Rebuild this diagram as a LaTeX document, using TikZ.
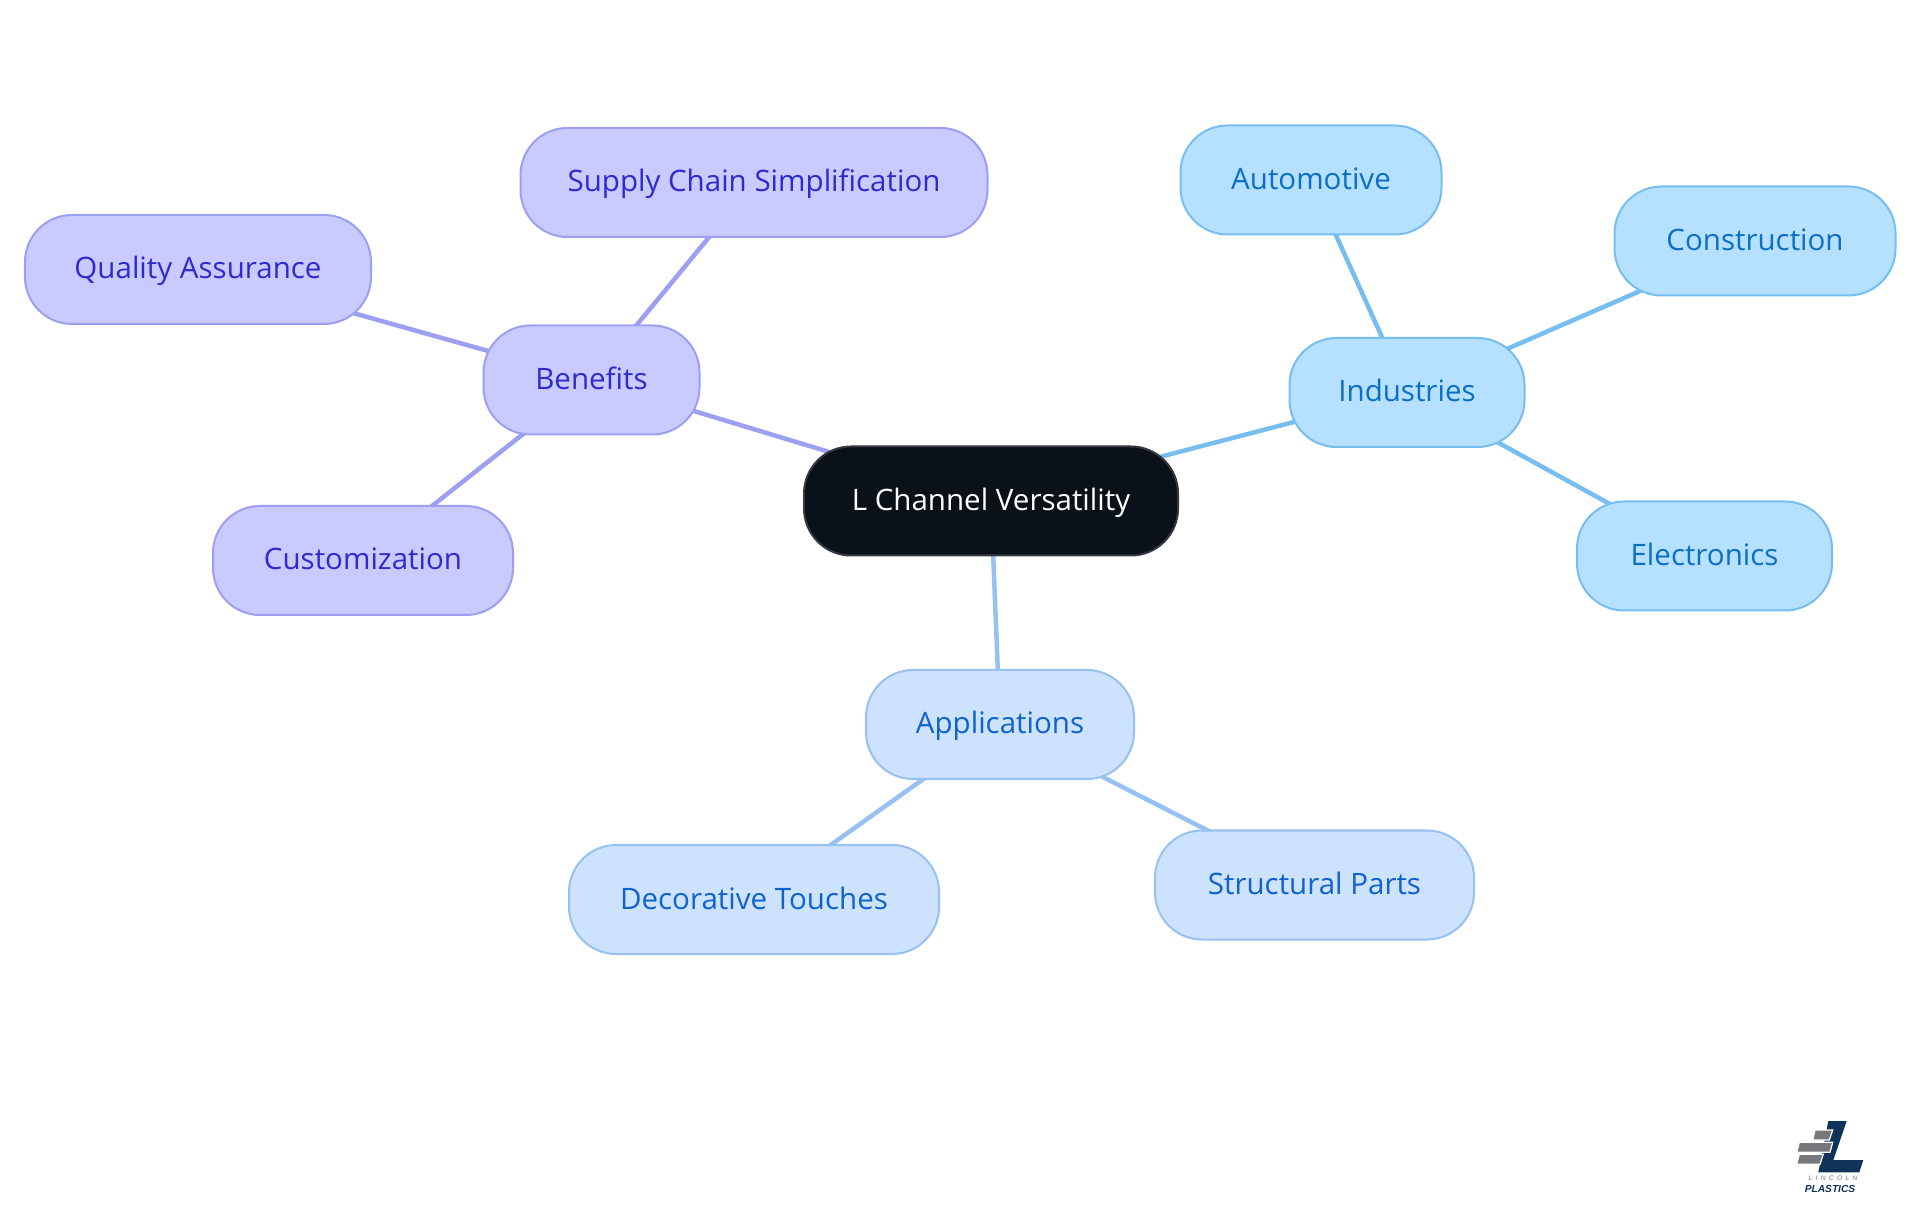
\documentclass[tikz,border=0pt]{standalone}
\usepackage{fontspec}
\setmainfont{Open Sans}
\newfontfamily\logofont{Liberation Sans}
\usetikzlibrary{backgrounds}

\definecolor{rootfill}{HTML}{0B1119}
\definecolor{rootdraw}{HTML}{35383D}
\definecolor{benefitfill}{HTML}{C9CAFF}
\definecolor{benefitdraw}{HTML}{9D9FF2}
\definecolor{benefittext}{HTML}{2D2BCF}
\definecolor{industryfill}{HTML}{B5E0FF}
\definecolor{industrydraw}{HTML}{77BEF0}
\definecolor{industrytext}{HTML}{0B6FC7}
\definecolor{applicationfill}{HTML}{CDE2FC}
\definecolor{applicationdraw}{HTML}{96C1F2}
\definecolor{applicationtext}{HTML}{0F62CF}
\definecolor{logoblue}{HTML}{0F3258}
\definecolor{logogray}{HTML}{77787B}

\begin{document}
\begin{tikzpicture}[
    knoten/.style={
      rectangle,
      rounded corners=.47cm,
      minimum height=1.09cm,
      text height=.30cm,
      text depth=.11cm,
      inner sep=0pt,
      line width=.02cm,
      font=\fontsize{8.4}{10}\selectfont},
    wurzel/.style={knoten, fill=rootfill, draw=rootdraw, text=white},
    benefit/.style={knoten, fill=benefitfill, draw=benefitdraw, text=benefittext},
    industry/.style={knoten, fill=industryfill, draw=industrydraw, text=industrytext},
    application/.style={knoten, fill=applicationfill, draw=applicationdraw, text=applicationtext},
    ast/.style={line width=.045cm},
    ziegel/.style={fill=logogray, draw=white, line width=.012cm}
    ]
  \useasboundingbox (0,0) rectangle (19.2,12.15);

  \node at (9.91,7.14) (root) [wurzel, minimum width=3.74cm] {L Channel Versatility};

  \node at (5.915,8.35) (benefits) [benefit, minimum width=2.16cm] {Benefits};
  \node at (7.54,10.325) (supply) [benefit, minimum width=4.67cm] {Supply Chain Simplification};
  \node at (1.98,9.455) (quality) [benefit, minimum width=3.46cm] {Quality Assurance};
  \node at (3.63,6.545) (custom) [benefit, minimum width=3.00cm] {Customization};

  \node at (14.07,8.225) (industries) [industry, minimum width=2.35cm] {Industries};
  \node at (13.11,10.35) (automotive) [industry, minimum width=2.61cm] {Automotive};
  \node at (17.55,9.74) (construction) [industry, minimum width=2.81cm] {Construction};
  \node at (17.045,6.59) (electronics) [industry, minimum width=2.55cm] {Electronics};

  \node at (10.00,4.905) (applications) [application, minimum width=2.68cm] {Applications};
  \node at (7.54,3.155) (decorative) [application, minimum width=3.70cm] {Decorative Touches};
  \node at (13.145,3.30) (structural) [application, minimum width=3.19cm] {Structural Parts};

  \begin{pgfonlayer}{background}
    \path [ast, draw=benefitdraw] (root.center) edge (benefits.center);
    \path [ast, draw=benefitdraw] (benefits.center) edge (supply.center);
    \path [ast, draw=benefitdraw] (benefits.center) edge (quality.center);
    \path [ast, draw=benefitdraw] (benefits.center) edge (custom.center);

    \path [ast, draw=industrydraw] (root.center) edge (industries.center);
    \path [ast, draw=industrydraw] (industries.center) edge (automotive.center);
    \path [ast, draw=industrydraw] (industries.center) edge (construction.center);
    \path [ast, draw=industrydraw] (industries.center) edge (electronics.center);

    \path [ast, draw=applicationdraw] (root.center) edge (applications.center);
    \path [ast, draw=applicationdraw] (applications.center) edge (decorative.center);
    \path [ast, draw=applicationdraw] (applications.center) edge (structural.center);
  \end{pgfonlayer}

  % logo
  \fill [logoblue] (18.283,.94) -- (18.467,.94) -- (18.333,.55) -- (18.633,.55) -- (18.593,.427) -- (18.183,.427) -- cycle;
  \path [ziegel] (18.15,.85) -- (18.327,.85) -- (18.293,.75) -- (18.127,.75) -- cycle;
  \path [ziegel] (17.993,.727) -- (18.327,.727) -- (18.30,.627) -- (17.967,.627) -- cycle;
  \path [ziegel] (17.993,.607) -- (18.233,.607) -- (18.20,.507) -- (17.967,.507) -- cycle;
  \node at (18.33,.367) (lincoln) [text=logogray, inner sep=0pt, font=\logofont\fontsize{1.9}{2}\selectfont\itshape] {L\,\,\,I\,\,\,N\,\,\,C\,\,\,O\,\,\,L\,\,\,N};
  \node at (18.3,.26) (plastics) [text=logoblue, inner sep=0pt, font=\logofont\fontsize{2.9}{4}\selectfont\bfseries\itshape] {PLASTICS};
\end{tikzpicture}
\end{document}
